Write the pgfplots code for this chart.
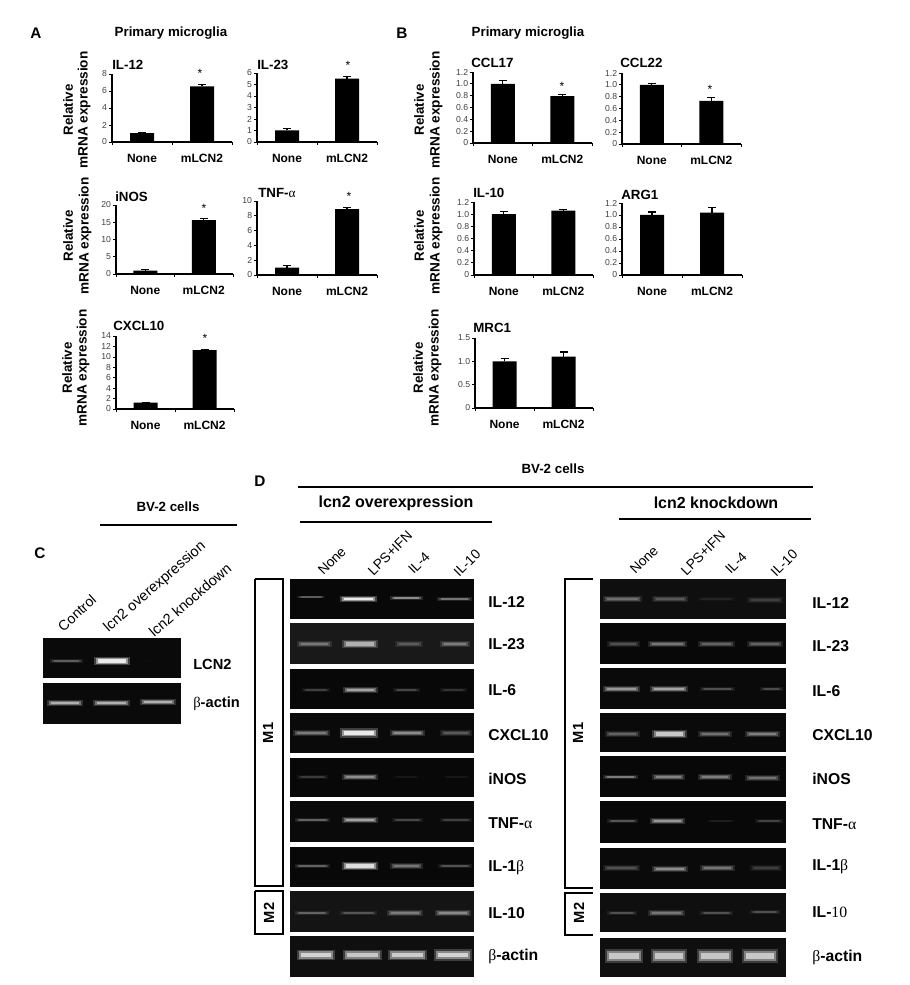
\documentclass[border=0pt]{standalone}
\usepackage{pgfplots}
\pgfplotsset{compat=1.18}
\usepackage{fontspec}
\setmainfont{Liberation Sans}
\newfontfamily\gk{Liberation Serif}
\newcommand\fs[1]{\fontsize{#1pt}{#1pt}\selectfont}
% text placed in pixel coordinates of the overlay axis
\newcommand\lab[4][]{\node[inner sep=0pt,#1] at (axis cs:#2,#3) {#4};}
\newcommand\hln[4]{\addplot[black,line width=0.8pt] coordinates {(#1,#3) (#2,#4)};}
% x1 x2 y1 y2 colour
\newcommand\gel[5]{\addplot[fill=#5,draw=none] coordinates {(#1,#3) (#2,#3) (#2,#4) (#1,#4)} -- cycle;}
% x1 x2 y brightness thickness(px)
\newcommand\band[5]{%
  \addplot[white!#4!black,opacity=0.22,line width={#5*1.0pt}] coordinates {(#1,#3) (#2,#3)};
  \addplot[white!#4!black,opacity=0.45,line width={#5*0.7pt},shorten >=1.2pt,shorten <=1.2pt] coordinates {(#1,#3) (#2,#3)};
  \addplot[white!#4!black,opacity=0.8,line width={#5*0.4pt},shorten >=3pt,shorten <=3pt] coordinates {(#1,#3) (#2,#3)};
}
\newcommand\ylab[3]{%
  \lab[rotate=90,font=\bfseries\fs{10}]{#1}{#3}{Relative}
  \lab[rotate=90,font=\bfseries\fs{10.2}]{#2}{#3}{mRNA expression}
}
% x left, x right, y top, y bottom (px), ymax, yticks, tick labels, coordinates
\newcommand\panel[8]{%
  \pgfmathsetlengthmacro\pw{(#2-#1)*0.75pt}
  \pgfmathsetlengthmacro\ph{(#4-#3)*0.75pt}
  \pgfmathsetlengthmacro\px{#1*0.75pt}
  \pgfmathsetlengthmacro\py{(985-#4)*0.75pt}
  \begin{axis}[
    at={(\px,\py)},anchor=south west,scale only axis,width=\pw,height=\ph,
    axis lines*=left,axis line style={line width=0.8pt},
    xmin=-0.5,xmax=1.5,ymin=0,ymax=#5,
    xtick={-0.5,0.5,1.5},xticklabels={},
    extra x ticks={0,1},extra x tick labels={None,mLCN2},
    extra x tick style={major tick length=0pt},
    x tick label style={font=\bfseries\fs{9},text height=6.6pt,text depth=0pt,yshift=-5.5pt},
    xtick align=inside,ytick align=outside,tick pos=left,
    major tick length=2pt,tick style={black,line width=0.5pt},
    ytick={#6},yticklabels={#7},
    y tick label style={font=\fs{6.5},text=black!75,inner xsep=1.5pt},
    ybar,bar width=18pt,clip=false]
    \addplot[fill=black,draw=none,
      error bars/.cd,y dir=plus,y explicit,
      error bar style={black,line width=0.8pt},
      error mark options={black,rotate=90,mark size=3pt,line width=0.8pt}]
      coordinates {#8};
  \end{axis}
}
\begin{document}
\begin{tikzpicture}
\path[use as bounding box] (0,0) rectangle (682.5pt,738.75pt);
\begin{axis}[at={(0,0)},anchor=south west,scale only axis,width=682.5pt,height=738.75pt,
  xmin=0,xmax=910,ymin=0,ymax=985,y dir=reverse,hide axis,clip=false]

% panel headings
\lab[font=\bfseries\fs{11.5}]{36}{33}{A}
\lab[font=\bfseries\fs{11.5}]{402}{33}{B}
\lab[font=\bfseries\fs{11.5}]{40}{553}{C}
\lab[font=\bfseries\fs{11.5}]{260}{481}{D}
\lab[font=\bfseries\fs{10}]{171}{33}{Primary microglia}
\lab[font=\bfseries\fs{10}]{528}{33}{Primary microglia}

\ylab{68}{84}{110}
\ylab{68}{85}{236}
\ylab{67}{83}{368}
\ylab{419}{436}{110}
\ylab{419}{436}{236}
\ylab{418}{435}{368}

% titles of the bar panels
\lab[anchor=west,font=\bfseries\fs{10}]{112}{65}{IL-12}
\lab[anchor=west,font=\bfseries\fs{10}]{257}{65}{IL-23}
\lab[anchor=west,font=\bfseries\fs{10}]{115}{197}{iNOS}
\lab[anchor=west,font=\bfseries\fs{10}]{258}{193}{TNF-{\gk\mdseries α}}
\lab[anchor=west,font=\bfseries\fs{10}]{113}{326}{CXCL10}
\lab[anchor=west,font=\bfseries\fs{10}]{471}{63}{CCL17}
\lab[anchor=west,font=\bfseries\fs{10}]{620}{63}{CCL22}
\lab[anchor=west,font=\bfseries\fs{10}]{473}{193}{IL-10}
\lab[anchor=west,font=\bfseries\fs{10}]{621}{195}{ARG1}
\lab[anchor=west,font=\bfseries\fs{10}]{473}{328}{MRC1}

% significance stars
\lab[font=\fs{9}]{200}{73}{*}
\lab[font=\fs{9}]{348}{65}{*}
\lab[font=\fs{9}]{204}{208}{*}
\lab[font=\fs{9}]{349}{196}{*}
\lab[font=\fs{9}]{205}{338}{*}
\lab[font=\fs{9}]{562}{86}{*}
\lab[font=\fs{9}]{710}{89}{*}

% panel C
\lab[font=\bfseries\fs{10}]{168}{507}{BV-2 cells}
\hln{100}{237}{525}{525}
\lab[rotate=42,font=\fs{10.6}]{77}{613}{Control}
\lab[rotate=41,font=\fs{10.9}]{155}{587}{lcn2 overexpression}
\lab[rotate=41,font=\fs{10.9}]{190}{600}{lcn2 knockdown}
\gel{43}{181}{638}{678}{black!96}
\gel{43}{181}{683}{724}{black!96}
\band{50}{83}{661}{40}{3}
\band{94}{130}{661}{100}{6}
\band{143}{153}{661}{6}{2}
\band{47}{83}{703}{75}{5}
\band{93}{130}{703}{75}{5}
\band{140}{176}{702}{75}{5}
\lab[anchor=west,font=\bfseries\fs{11}]{193}{664}{LCN2}
\lab[anchor=west,font=\bfseries\fs{11}]{193}{704}{{\gk\mdseries β}-actin}

% panel D headings
\lab[font=\bfseries\fs{10}]{553}{469}{BV-2 cells}
\hln{298}{813}{487}{487}
\lab[font=\bfseries\fs{12}]{396}{503}{lcn2 overexpression}
\hln{300}{492}{522}{522}
\lab[font=\bfseries\fs{12}]{716}{503}{lcn2 knockdown}
\hln{619}{811}{519}{519}

\lab[rotate=45,font=\fs{10.3}]{332}{561}{None}
\lab[rotate=45,font=\fs{10.3}]{390}{553}{LPS+IFN}
\lab[rotate=45,font=\fs{10.3}]{419}{563}{IL-4}
\lab[rotate=45,font=\fs{10.3}]{467}{563}{IL-10}
\lab[rotate=45,font=\fs{10.3}]{644}{560}{None}
\lab[rotate=45,font=\fs{10.3}]{703}{553}{LPS+IFN}
\lab[rotate=45,font=\fs{10.3}]{736}{563}{IL-4}
\lab[rotate=45,font=\fs{10.3}]{784}{563}{IL-10}

% M1 / M2 boxes
\addplot[black,line width=0.8pt] coordinates {(255,579) (283,579) (283,886) (255,886) (255,579)};
\addplot[black,line width=0.8pt] coordinates {(255,891) (283,891) (283,934) (255,934) (255,891)};
\lab[rotate=90,font=\bfseries\fs{11}]{268}{733}{M1}
\lab[rotate=90,font=\bfseries\fs{11}]{269}{913}{M2}
\addplot[black,line width=0.8pt] coordinates {(593,579) (565,579) (565,888) (593,888)};
\addplot[black,line width=0.8pt] coordinates {(593,893) (565,893) (565,935) (593,935)};
\lab[rotate=90,font=\bfseries\fs{11}]{578}{733}{M1}
\lab[rotate=90,font=\bfseries\fs{11}]{579}{913}{M2}

% left gels
\gel{290}{474}{579}{619}{black!97}
\gel{290}{474}{623}{664}{black!90}
\gel{290}{474}{669}{709}{black!97}
\gel{290}{474}{713}{753}{black!96}
\gel{290}{474}{758}{797}{black!97}
\gel{290}{474}{801}{842}{black!96}
\gel{290}{474}{847}{887}{black!97}
\gel{290}{474}{891}{932}{black!92}
\gel{290}{474}{936}{977}{black!94}
\band{297}{325}{597}{40}{2}
\band{340}{377}{599}{100}{5}
\band{390}{423}{598}{60}{3}
\band{437}{472}{599}{50}{3}
\band{297}{332}{644}{50}{5}
\band{342}{378}{644}{75}{6}
\band{395}{423}{644}{38}{4}
\band{440}{470}{644}{52}{5}
\band{302}{330}{690}{28}{3}
\band{343}{378}{690}{70}{4}
\band{393}{420}{690}{30}{3}
\band{440}{467}{690}{22}{3}
\band{293}{330}{733}{52}{4}
\band{340}{378}{733}{100}{7}
\band{390}{425}{733}{60}{4}
\band{440}{472}{733}{38}{4}
\band{297}{328}{777}{25}{3}
\band{342}{378}{777}{60}{4}
\band{393}{420}{777}{10}{2}
\band{443}{470}{777}{10}{2}
\band{295}{330}{820}{42}{3}
\band{342}{378}{820}{70}{4}
\band{392}{423}{820}{30}{3}
\band{440}{472}{820}{28}{3}
\band{295}{330}{866}{42}{3}
\band{342}{378}{866}{95}{6}
\band{390}{423}{866}{50}{4}
\band{438}{472}{866}{35}{3}
\band{295}{329}{913}{42}{3}
\band{340}{377}{913}{36}{3}
\band{387}{423}{913}{52}{4}
\band{435}{471}{913}{58}{4}
\band{297}{335}{955}{90}{8}
\band{343}{382}{955}{85}{8}
\band{388}{427}{955}{88}{8}
\band{434}{472}{955}{90}{9}

\lab[anchor=west,font=\bfseries\fs{11.8}]{488}{602}{IL-12}
\lab[anchor=west,font=\bfseries\fs{11.8}]{488}{644}{IL-23}
\lab[anchor=west,font=\bfseries\fs{11.8}]{488}{690}{IL-6}
\lab[anchor=west,font=\bfseries\fs{11.8}]{488}{735}{CXCL10}
\lab[anchor=west,font=\bfseries\fs{11.8}]{488}{779}{iNOS}
\lab[anchor=west,font=\bfseries\fs{11.8}]{488}{823}{TNF-{\gk\mdseries α}}
\lab[anchor=west,font=\bfseries\fs{11.8}]{488}{868}{IL-1{\gk\mdseries β}}
\lab[anchor=west,font=\bfseries\fs{11.8}]{488}{913}{IL-10}
\lab[anchor=west,font=\bfseries\fs{11.8}]{488}{956}{{\gk\mdseries β}-actin}

% right gels
\gel{600}{786}{579}{619}{black!94}
\gel{600}{786}{623}{664}{black!97}
\gel{600}{786}{668}{709}{black!96}
\gel{600}{786}{713}{752}{black!96}
\gel{600}{786}{756}{797}{black!97}
\gel{600}{786}{801}{843}{black!97}
\gel{600}{786}{848}{889}{black!96}
\gel{600}{786}{893}{932}{black!94}
\gel{600}{786}{938}{977}{black!94}
\band{603}{642}{599}{48}{5}
\band{652}{688}{599}{38}{4}
\band{698}{735}{599}{15}{3}
\band{747}{783}{600}{26}{4}
\band{607}{640}{644}{34}{4}
\band{648}{687}{644}{50}{4}
\band{698}{735}{644}{42}{4}
\band{747}{783}{644}{42}{4}
\band{603}{640}{689}{65}{4}
\band{650}{688}{689}{70}{5}
\band{700}{735}{689}{34}{3}
\band{760}{783}{689}{32}{3}
\band{605}{640}{734}{42}{4}
\band{652}{687}{734}{85}{6}
\band{698}{732}{734}{48}{4}
\band{745}{780}{734}{54}{5}
\band{603}{638}{777}{52}{3}
\band{652}{685}{777}{56}{4}
\band{698}{732}{777}{54}{4}
\band{745}{780}{778}{48}{4}
\band{607}{638}{821}{36}{3}
\band{650}{685}{821}{65}{4}
\band{707}{735}{821}{12}{2}
\band{755}{783}{821}{28}{3}
\band{603}{640}{868}{34}{4}
\band{652}{688}{869}{60}{5}
\band{700}{735}{868}{50}{4}
\band{750}{782}{868}{26}{4}
\band{607}{637}{913}{34}{3}
\band{648}{685}{913}{50}{4}
\band{700}{733}{913}{34}{3}
\band{750}{780}{912}{34}{3}
\band{605}{643}{956}{85}{10}
\band{651}{687}{956}{85}{10}
\band{697}{733}{956}{85}{10}
\band{742}{778}{956}{85}{10}

\lab[anchor=west,font=\bfseries\fs{11.8}]{812}{603}{IL-12}
\lab[anchor=west,font=\bfseries\fs{11.8}]{812}{646}{IL-23}
\lab[anchor=west,font=\bfseries\fs{11.8}]{812}{691}{IL-6}
\lab[anchor=west,font=\bfseries\fs{11.8}]{812}{735}{CXCL10}
\lab[anchor=west,font=\bfseries\fs{11.8}]{812}{779}{iNOS}
\lab[anchor=west,font=\bfseries\fs{11.8}]{812}{824}{TNF-{\gk\mdseries α}}
\lab[anchor=west,font=\bfseries\fs{11.8}]{812}{867}{IL-1{\gk\mdseries β}}
\lab[anchor=west,font=\bfseries\fs{11.8}]{812}{912}{IL-{\gk\mdseries 10}}
\lab[anchor=west,font=\bfseries\fs{11.8}]{812}{957}{{\gk\mdseries β}-actin}
\end{axis}

% panel A
\panel{112}{232}{74}{142}{8}{0,2,4,6,8}{0,2,4,6,8}{(0,1.05) +- (0,0.1) (1,6.55) +- (0,0.25)}
\panel{257}{377}{73}{142}{6}{0,1,2,3,4,5,6}{0,1,2,3,4,5,6}{(0,1.0) +- (0,0.15) (1,5.5) +- (0,0.22)}
\panel{116}{233}{205}{274}{20}{0,5,10,15,20}{0,5,10,15,20}{(0,1.0) +- (0,0.4) (1,15.6) +- (0,0.5)}
\panel{257}{377}{201}{275}{10}{0,2,4,6,8,10}{0,2,4,6,8,10}{(0,1.0) +- (0,0.25) (1,8.9) +- (0,0.25)}
\panel{116}{234}{336}{409}{14}{0,2,4,6,8,10,12,14}{0,2,4,6,8,10,12,14}{(0,1.2) +- (0,0.1) (1,11.3) +- (0,0.15)}
% panel B
\panel{473}{592}{72}{143}{1.2}{0,0.2,0.4,0.6,0.8,1.0,1.2}{0,0.2,0.4,0.6,0.8,1.0,1.2}{(0,1.0) +- (0,0.05) (1,0.79) +- (0,0.03)}
\panel{622}{741}{73}{144}{1.2}{0,0.2,0.4,0.6,0.8,1.0,1.2}{0,0.2,0.4,0.6,0.8,1.0,1.2}{(0,1.0) +- (0,0.03) (1,0.73) +- (0,0.05)}
\panel{474}{593}{202}{275}{1.2}{0,0.2,0.4,0.6,0.8,1.0,1.2}{0,0.2,0.4,0.6,0.8,1.0,1.2}{(0,1.0) +- (0,0.05) (1,1.06) +- (0,0.015)}
\panel{622}{742}{203}{275}{1.2}{0,0.2,0.4,0.6,0.8,1.0,1.2}{0,0.2,0.4,0.6,0.8,1.0,1.2}{(0,1.0) +- (0,0.05) (1,1.04) +- (0,0.08)}
\panel{475}{593}{338}{408}{1.5}{0,0.5,1.0,1.5}{0,0.5,1.0,1.5}{(0,1.0) +- (0,0.06) (1,1.1) +- (0,0.1)}
\end{tikzpicture}
\end{document}
